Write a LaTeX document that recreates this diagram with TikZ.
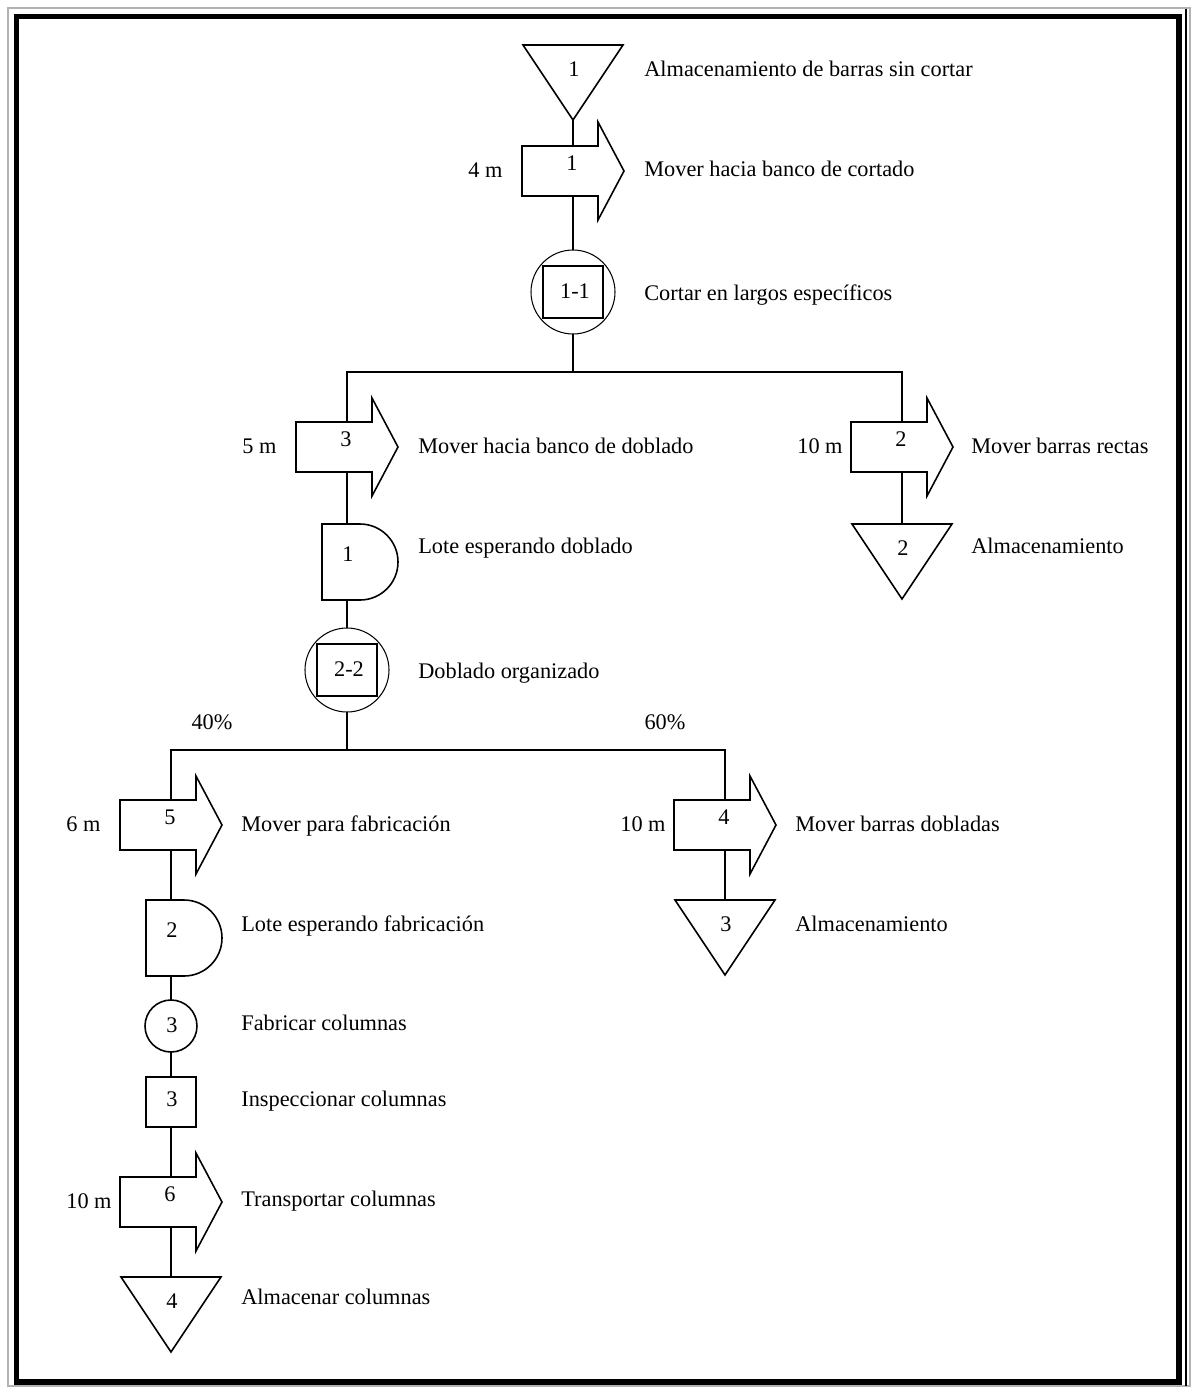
\documentclass[tikz,border=0pt]{standalone}
\usepackage{fontspec}
\setmainfont{Liberation Serif}
\begin{document}
\begin{tikzpicture}[x=0.02cm, y=-0.02cm,
    every node/.style={font=\fontsize{12.7}{15}\selectfont, inner sep=0pt, text height=1.8ex, text depth=.15ex},
    sym/.style={draw, line width=0.9pt, fill=white},
    thin sym/.style={draw, line width=0.6pt, fill=white},
    link/.style={line width=0.9pt},
    desc/.style={anchor=west},
    store/.pic={\draw[sym] (-50,0) -- (50,0) -- (0,75) -- cycle;
      \node (-n) at (1,25) {#1};
      \coordinate (-top) at (0,0); \coordinate (-bot) at (0,75);},
    move/.pic={\draw[sym] (-51,-25) -- (25,-25) -- (25,-49) -- (51,0) -- (25,49) -- (25,25) -- (-51,25) -- cycle;
      \node (-n) at (-1,-7) {#1};
      \coordinate (-top) at (0,-25); \coordinate (-bot) at (0,25);},
    combo/.pic={\draw[thin sym] (0,0) circle[radius=42];
      \draw[thin sym] (-30,-26) rectangle (30,26);
      \node (-n) at (2,0) {#1};
      \coordinate (-top) at (0,-42); \coordinate (-bot) at (0,42);},
    delay/.pic={\draw[sym] (13,-38) -- (-25,-38) -- (-25,38) -- (13,38) arc[start angle=90, end angle=-90, radius=38] -- cycle;
      \node (-n) at (1,-7) {#1};
      \coordinate (-top) at (0,-38); \coordinate (-bot) at (0,38);},
    oper/.pic={\draw[sym] (0,0) circle[radius=26];
      \node (-n) at (1,0) {#1};
      \coordinate (-top) at (0,-26); \coordinate (-bot) at (0,26);},
    insp/.pic={\draw[sym] (-25,-25) rectangle (25,25);
      \node (-n) at (1,-2) {#1};
      \coordinate (-top) at (0,-25); \coordinate (-bot) at (0,25);}]
  \useasboundingbox (0,0) rectangle (1195,1387);
  \draw[gray!60, line width=1.2pt] (8,8) rectangle (1190,1386);
  \draw[line width=3.2pt] (16.5,16.5) rectangle (1179,1382);
  \draw[line width=1pt] (1186,9) -- (1186,1386);

  \pic (t1) at (573,45) {store=1};
  \pic (m1) at (573,171) {move=1};
  \pic (c1) at (573,292) {combo=1-1};
  \coordinate (b1) at (573,372);
  \pic (m3) at (347,447) {move=3};
  \pic (w1) at (347,562) {delay=1};
  \pic (c2) at (347,670) {combo=2-2};
  \coordinate (b2) at (347,750);
  \pic (m2) at (902,447) {move=2};
  \pic (t2) at (902,524) {store=2};
  \pic (m5) at (171,825) {move=5};
  \pic (w2) at (171,938) {delay=2};
  \pic (o3) at (171,1026) {oper=3};
  \pic (i3) at (171,1102) {insp=3};
  \pic (m6) at (171,1202) {move=6};
  \pic (t4) at (171,1277) {store=4};
  \pic (m4) at (725,825) {move=4};
  \pic (t3) at (725,900) {store=3};

  \draw[link] (t1-bot) -- (m1-top);
  \draw[link] (m1-bot) -- (c1-top);
  \draw[link] (c1-bot) -- (b1);
  \draw[link] (m3-top) |- (b1) -| (m2-top);
  \draw[link] (m3-bot) -- (w1-top);
  \draw[link] (w1-bot) -- (c2-top);
  \draw[link] (c2-bot) -- (b2);
  \draw[link] (m5-top) |- (b2) -| (m4-top);
  \draw[link] (m2-bot) -- (t2-top);
  \draw[link] (m5-bot) -- (w2-top);
  \draw[link] (w2-bot) -- (o3-top);
  \draw[link] (o3-bot) -- (i3-top);
  \draw[link] (i3-bot) -- (m6-top);
  \draw[link] (m6-bot) -- (t4-top);
  \draw[link] (m4-bot) -- (t3-top);

  \node[desc] (d1) at (468,171) {4 m};
  \node[desc] (d3) at (242,447) {5 m};
  \node[desc] (d2) at (797,447) {10 m};
  \node[desc] (d5) at (66,825) {6 m};
  \node[desc] (d4) at (620,825) {10 m};
  \node[desc] (d6) at (66,1202) {10 m};
  \node (p40) at (212,723) {40\%};
  \node (p60) at (665,723) {60\%};

  \node[desc] (l1) at (644,70) {Almacenamiento de barras sin cortar};
  \node[desc] (l2) at (644,170) {Mover hacia banco de cortado};
  \node[desc] (l3) at (644,294) {Cortar en largos específicos};
  \node[desc] (l4) at (418,447) {Mover hacia banco de doblado};
  \node[desc] (l5) at (418,547) {Lote esperando doblado};
  \node[desc] (l6) at (418,672) {Doblado organizado};
  \node[desc] (l7) at (971,447) {Mover barras rectas};
  \node[desc] (l8) at (971,547) {Almacenamiento};
  \node[desc] (l9) at (241,825) {Mover para fabricación};
  \node[desc] (l10) at (241,925) {Lote esperando fabricación};
  \node[desc] (l11) at (241,1024) {Fabricar columnas};
  \node[desc] (l12) at (241,1100) {Inspeccionar columnas};
  \node[desc] (l13) at (241,1200) {Transportar columnas};
  \node[desc] (l14) at (241,1298) {Almacenar columnas};
  \node[desc] (l15) at (795,825) {Mover barras dobladas};
  \node[desc] (l16) at (795,925) {Almacenamiento};
\end{tikzpicture}
\end{document}
